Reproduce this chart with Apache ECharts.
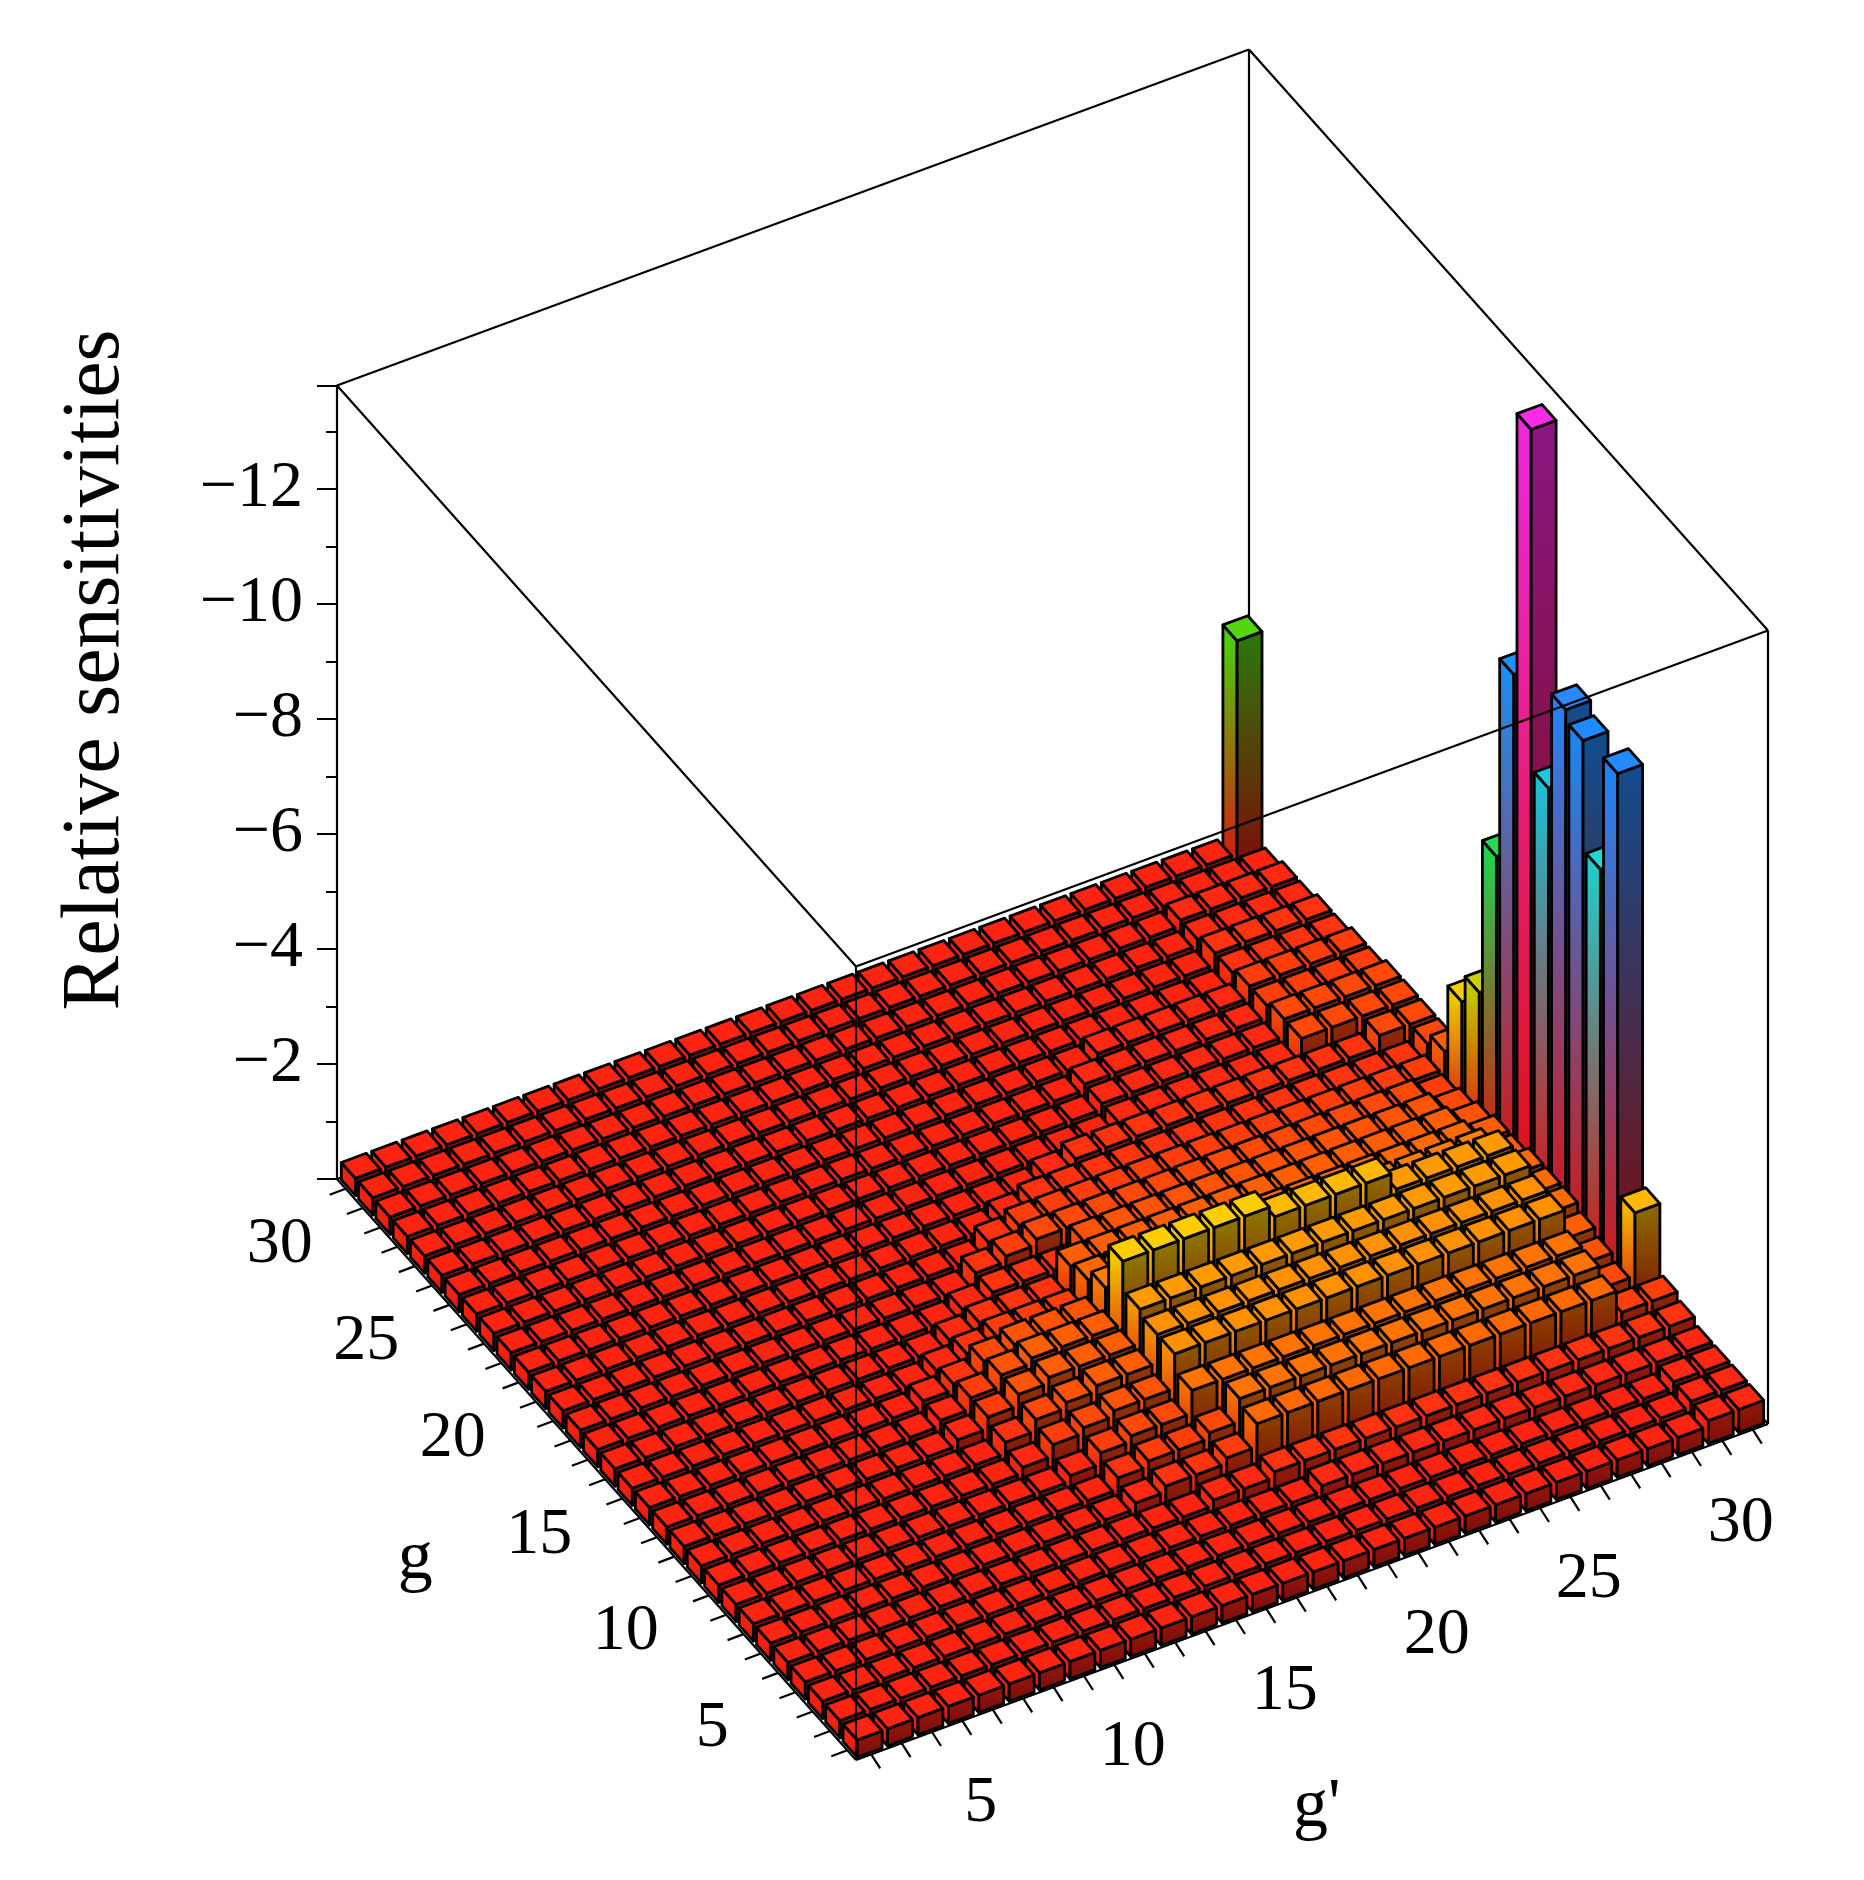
<!DOCTYPE html><html><head><meta charset="utf-8">
<script src="https://cdn.jsdelivr.net/npm/echarts@6/dist/echarts.min.js"></script>
<style>html,body{margin:0;background:#fff}#c{width:1864px;height:1880px}</style></head><body><div id="c"></div><script>
// g' = columns 1..30, g = rows 1..30, values = relative sensitivities
const gPrimeTicks = [5,10,15,20,25,30];
const gTicks = [5,10,15,20,25,30];
const zTitle = 'Relative sensitivities';
const row01 = [-.3,-.3,-.3,-.3,-.3,-.3,-.3,-.3,-.3,-.3, -.3,-.3,-.3,-.3,-.3,-.3,-.3,-.3,-.3,-.3, -.3,-.3,-.3,-.3,-.3,-.3,-.3,-.3,-.4,-.4];
const row02 = [-.3,-.3,-.3,-.3,-.3,-.3,-.3,-.3,-.3,-.3, -.3,-.3,-.3,-.3,-.3,-.3,-.3,-.3,-.3,-.3, -.3,-.3,-.3,-.3,-.3,-.3,-.3,-.3,-.4,-.4];
const row03 = [-.3,-.3,-.3,-.3,-.3,-.3,-.3,-.3,-.3,-.3, -.3,-.3,-.3,-.3,-.3,-.3,-.3,-.3,-.3,-.3, -.3,-.3,-.3,-.3,-.3,-.3,-.3,-.3,-.4,-.4];
const row04 = [-.3,-.3,-.3,-.3,-.3,-.3,-.3,-.3,-.3,-.3, -.3,-.3,-.3,-.3,-.3,-.3,-.3,-.4,-.4,-.4, -.4,-.4,-.4,-.4,-.4,-.4,-.4,-.4,-.4,-.4];
const row05 = [-.3,-.3,-.3,-.3,-.3,-.3,-.3,-.3,-.3,-.3, -.3,-.3,-.3,-.3,-.4,-.4,-.5,-.5,-.5,-.5, -.5,-.5,-.5,-.5,-.5,-.5,-.5,-.5,-.5,-.5];
const row06 = [-.3,-.3,-.3,-.3,-.3,-.3,-.3,-.3,-.3,-.3, -.3,-.3,-.4,-.5,-.5,-.6,-1,-1,-1,-1, -1,-1,-1,-1,-1,-1,-1,-1,-.6,-.6];
const row07 = [-.3,-.3,-.3,-.3,-.3,-.3,-.3,-.3,-.3,-.3, -.3,-.3,-.5,-.6,-.6,-.7,-1.1,-1.1,-1.1,-1.1, -1.1,-1.1,-1.1,-1.1,-1.1,-1.1,-1.1,-1.1,-.7,-1.8];
const row08 = [-.3,-.3,-.3,-.3,-.3,-.3,-.3,-.3,-.3,-.3, -.3,-.4,-.6,-.7,-.7,-1.1,-1.1,-1.1,-1.1,-1.1, -1.1,-1.1,-1.1,-1.1,-1.1,-1.1,-1.1,-1.1,-.8,-9.1];
const row09 = [-.3,-.3,-.3,-.3,-.3,-.3,-.3,-.3,-.3,-.3, -.4,-.6,-.7,-.8,-.8,-1.4,-1.4,-1.4,-1.4,-1.4, -1.4,-1.4,-1.4,-1.4,-1.4,-1.4,-1.4,-1.4,-.9,-7.1];
const row10 = [-.3,-.3,-.3,-.3,-.3,-.3,-.3,-.3,-.3,-.3, -.5,-.7,-.8,-.9,-.9,-1.4,-1.4,-1.4,-1.4,-1.4, -1.4,-1.4,-1.4,-1.4,-1.4,-1.4,-1.4,-1.4,-1,-9];
const row11 = [-.3,-.3,-.3,-.3,-.3,-.3,-.3,-.3,-.3,-.4, -.6,-.8,-.9,-.9,-.9,-1.5,-1.5,-1.5,-1.5,-1.5, -1.5,-1.5,-1.5,-1.5,-1.5,-1.5,-1.5,-1.5,-1,-9.2];
const row12 = [-.3,-.3,-.3,-.3,-.3,-.3,-.3,-.3,-.3,-.4, -.6,-.8,-.9,-.9,-.9,-2,-2,-2,-2,-2, -1.8,-1.8,-1.8,-1.8,-1.5,-1.5,-1.5,-1.5,-1,-7.5];
const row13 = [-.3,-.3,-.3,-.3,-.3,-.3,-.3,-.3,-.3,-.4, -.5,-.7,-.8,-.8,-.8,-1.2,-1.2,-1.2,-1.2,-1.2, -1.2,-1.2,-1.2,-1.2,-1.2,-1.2,-1.2,-1.2,-.9,-13.4];
const row14 = [-.3,-.3,-.3,-.3,-.3,-.3,-.3,-.3,-.3,-.3, -.4,-.5,-.6,-.6,-.6,-1,-1,-1,-1,-1, -1,-1,-1,-1,-1,-1,-1,-1,-.9,-8.8];
const row15 = [-.3,-.3,-.3,-.3,-.3,-.3,-.3,-.3,-.3,-.3, -.3,-.4,-.5,-.5,-.5,-.9,-.9,-.9,-.9,-.9, -.9,-.9,-.9,-.9,-.9,-.9,-.9,-.9,-.8,-5.3];
const row16 = [-.3,-.3,-.3,-.3,-.3,-.3,-.3,-.3,-.3,-.3, -.3,-.3,-.4,-.5,-.5,-.5,-.8,-.8,-.8,-.8, -.8,-.8,-.8,-.8,-.8,-.8,-.8,-.8,-.7,-2.6];
const row17 = [-.3,-.3,-.3,-.3,-.3,-.3,-.3,-.3,-.3,-.3, -.3,-.3,-.3,-.5,-.6,-.7,-.7,-.7,-.7,-.7, -.7,-.7,-.7,-.7,-.7,-.7,-.7,-.7,-.6,-2.1];
const row18 = [-.3,-.3,-.3,-.3,-.3,-.3,-.3,-.3,-.3,-.3, -.3,-.3,-.3,-.3,-.5,-.6,-.6,-.6,-.6,-.6, -.6,-.6,-.6,-.6,-.6,-.6,-.6,-.6,-.6,-.9];
const row19 = [-.3,-.3,-.3,-.3,-.3,-.3,-.3,-.3,-.3,-.3, -.3,-.3,-.3,-.3,-.3,-.4,-.5,-.5,-.5,-.5, -.5,-.5,-.5,-.5,-.5,-.5,-.5,-.5,-.5,-.7];
const row20 = [-.3,-.3,-.3,-.3,-.3,-.3,-.3,-.3,-.3,-.3, -.3,-.3,-.3,-.3,-.3,-.3,-.3,-.4,-.5,-.5, -.5,-.5,-.5,-.5,-.5,-.5,-.5,-.5,-.7,-.7];
const row21 = [-.3,-.3,-.3,-.3,-.3,-.3,-.3,-.3,-.3,-.3, -.3,-.3,-.3,-.3,-.3,-.3,-.3,-.3,-.3,-.3, -.4,-.4,-.4,-.4,-.4,-.4,-.7,-.7,-.7,-.7];
const row22 = [-.3,-.3,-.3,-.3,-.3,-.3,-.3,-.3,-.3,-.3, -.3,-.3,-.3,-.3,-.3,-.3,-.3,-.3,-.3,-.3, -.4,-.4,-.4,-.4,-.4,-.4,-.7,-.7,-.7,-.7];
const row23 = [-.3,-.3,-.3,-.3,-.3,-.3,-.3,-.3,-.3,-.3, -.3,-.3,-.3,-.3,-.3,-.3,-.3,-.3,-.3,-.3, -.4,-.4,-.4,-.4,-.4,-.4,-.6,-.6,-.6,-.6];
const row24 = [-.3,-.3,-.3,-.3,-.3,-.3,-.3,-.3,-.3,-.3, -.3,-.3,-.3,-.3,-.3,-.3,-.3,-.3,-.3,-.3, -.3,-.4,-.4,-.4,-.4,-.4,-.6,-.6,-.6,-.6];
const row25 = [-.3,-.3,-.3,-.3,-.3,-.3,-.3,-.3,-.3,-.3, -.3,-.3,-.3,-.3,-.3,-.3,-.3,-.3,-.3,-.3, -.3,-.3,-.3,-.3,-.3,-.3,-.5,-.5,-.5,-.5];
const row26 = [-.3,-.3,-.3,-.3,-.3,-.3,-.3,-.3,-.3,-.3, -.3,-.3,-.3,-.3,-.3,-.3,-.3,-.3,-.3,-.3, -.3,-.3,-.3,-.3,-.3,-.3,-.5,-.5,-.5,-.5];
const row27 = [-.3,-.3,-.3,-.3,-.3,-.3,-.3,-.3,-.3,-.3, -.3,-.3,-.3,-.3,-.3,-.3,-.3,-.3,-.3,-.3, -.3,-.3,-.3,-.3,-.3,-.3,-.4,-.4,-.4,-.4];
const row28 = [-.3,-.3,-.3,-.3,-.3,-.3,-.3,-.3,-.3,-.3, -.3,-.3,-.3,-.3,-.3,-.3,-.3,-.3,-.3,-.3, -.3,-.3,-.3,-.3,-.3,-.3,-.4,-.4,-.4,-.4];
const row29 = [-.3,-.3,-.3,-.3,-.3,-.3,-.3,-.3,-.3,-.3, -.3,-.3,-.3,-.3,-.3,-.3,-.3,-.3,-.3,-.3, -.3,-.3,-.3,-.3,-.3,-.3,-.3,-.3,-.3,-.3];
const row30 = [-.3,-.3,-.3,-.3,-.3,-.3,-.3,-.3,-.3,-.3, -.3,-.3,-.3,-.3,-.3,-.3,-.3,-.3,-.3,-.3, -.3,-.3,-.3,-.3,-.3,-.3,-.3,-.3,-.3,-4.0];
const rows = [row01,row02,row03,row04,row05,row06,row07,row08,row09,row10,row11,row12,row13,row14,row15,row16,row17,row18,row19,row20,row21,row22,row23,row24,row25,row26,row27,row28,row29,row30];

// colour map (height -> colour)
const cmap = [[0,[255,22,18]],[0.4,[255,40,18]],[1,[255,105,0]],[2,[255,205,0]],[4.5,[40,215,20]],[7,[30,220,210]],[9,[30,140,255]],[13.5,[255,40,230]]];
function cm(z){ if(z<=cmap[0][0]) return cmap[0][1];
  for(let i=1;i<cmap.length;i++){ if(z<=cmap[i][0]){ const [z0,c0]=cmap[i-1],[z1,c1]=cmap[i]; const t=(z-z0)/(z1-z0); return c0.map((v,k)=>v+(c1[k]-v)*t);} }
  return cmap[cmap.length-1][1]; }
function rgb(c,f){ return 'rgb('+c.map(v=>Math.round(Math.min(255,v*f))).join(',')+')'; }

// ground projection (g', g) -> screen
const O=[856,1760], U1=[(1768-856)/30,(1424-1760)/30], U2=[(337-856)/30,(1179-1760)/30];
function ground(gp,g){ return [O[0]+(gp-0.5)*U1[0]+(g-0.5)*U2[0], O[1]+(gp-0.5)*U1[1]+(g-0.5)*U2[1]]; }

const data=[];
rows.forEach((r,gi)=>r.forEach((v,pi)=>data.push([pi+1,gi+1,v])));
data.sort((a,b)=>(17.3*b[0]+30.4*b[1])-(17.3*a[0]+30.4*a[1]));

function renderItem(params, api){
  const gp=api.value(0), g=api.value(1), h=-api.value(2);
  const base=api.coord([0,0])[1];
  const dz=z=>api.coord([0,z])[1]-base;
  const P=(x,y,z)=>{const q=ground(x,y); return [q[0], q[1]+dz(z)];};
  const w=0.41, x0=gp-w,x1=gp+w,y0=g-w,y1=g+w;
  const top_c=cm(h);
  const grad=(f,ptB,ptT)=>new echarts.graphic.LinearGradient(0,ptB[1],0,ptT[1],
      [{offset:0,color:rgb(cmap[0][1],f*0.9)},{offset:1,color:rgb(top_c,f)}],true);
  const lb=P(x0,y0,0), lt=P(x0,y0,h);
  const left=[P(x0,y1,0),P(x0,y0,0),P(x0,y0,h),P(x0,y1,h)];
  const front=[P(x0,y0,0),P(x1,y0,0),P(x1,y0,h),P(x0,y0,h)];
  const top=[P(x0,y0,h),P(x1,y0,h),P(x1,y1,h),P(x0,y1,h)];
  const st={stroke:'#000',lineWidth:2.8,lineJoin:'round'};
  return {type:'group',children:[
    {type:'polygon',shape:{points:left},style:Object.assign({fill:grad(0.95,lb,lt)},st)},
    {type:'polygon',shape:{points:front},style:Object.assign({fill:grad(0.55,lb,lt)},st)},
    {type:'polygon',shape:{points:top},style:Object.assign({fill:rgb(top_c,1.0)},st)}
  ]};
}

const chart=echarts.init(document.getElementById('c'));
const font='Liberation Serif';
chart.setOption({
  animation:false,
  grid:{left:337,top:1179-13.8*57.5,width:10,height:13.8*57.5},
  xAxis:{type:'value',min:0,max:31,show:false},
  yAxis:{type:'value',min:0,max:13.8,interval:2,position:'left',
    axisLine:{show:true,lineStyle:{color:'#000',width:2}},
    axisTick:{show:true,length:20,lineStyle:{color:'#000',width:2}},
    minorTick:{show:true,splitNumber:2,length:11,lineStyle:{color:'#000',width:2}},
    splitLine:{show:false},
    axisLabel:{formatter:v=>(v===0||v>13)?'':'\u2212'+v,showMaxLabel:false,fontFamily:font,fontSize:66,color:'#000',margin:34}},
  series:[{type:'custom',coordinateSystem:'cartesian2d',clip:false,encode:{x:0,y:2},renderItem,data,z:5}]
});

// box, ticks and labels
const zp=z=>chart.convertToPixel({yAxisIndex:0},z)-chart.convertToPixel({yAxisIndex:0},0);
const ZT=13.8;
const PP=(gp,g,z)=>{const q=ground(gp,g); return [q[0],q[1]+zp(z)];};
const lo=0.5, hi=30.5;
const ln=(a,b,z)=>({type:'polyline',z:z,silent:true,shape:{points:[a,b]},style:{stroke:'#000',lineWidth:2.2,fill:null}});
const gr=[];
gr.push(ln(PP(hi,lo,0),PP(hi,hi,0),0), ln(PP(lo,hi,0),PP(hi,hi,0),0), ln(PP(hi,hi,0),PP(hi,hi,ZT),0));
[[lo,lo],[hi,lo],[lo,hi]].forEach(c=>gr.push(ln(PP(c[0],c[1],0),PP(c[0],c[1],ZT),100)));
gr.push(ln(PP(lo,lo,0),PP(hi,lo,0),100), ln(PP(lo,lo,0),PP(lo,hi,0),100));
gr.push(ln(PP(lo,lo,ZT),PP(hi,lo,ZT),100), ln(PP(hi,lo,ZT),PP(hi,hi,ZT),100), ln(PP(hi,hi,ZT),PP(lo,hi,ZT),100), ln(PP(lo,hi,ZT),PP(lo,lo,ZT),100));
for(let k=1;k<=30;k++){ const a=PP(k,lo,0); gr.push(ln(a,[a[0]+9,a[1]+14],100)); }
const lf='66px "'+font+'"';
gPrimeTicks.forEach(k=>{ const a=PP(k,lo,0); gr.push({type:'text',z:100,style:{text:String(k),x:a[0]-12,y:a[1]+94,align:'center',verticalAlign:'middle',font:lf,fill:'#000'}}); });
for(let k=1;k<=30;k++){ const a=PP(lo,k,0); gr.push(ln(a,[a[0]-16,a[1]+6],100)); }
gTicks.forEach(k=>{ const a=PP(lo,k,0); gr.push({type:'text',z:100,style:{text:String(k),x:a[0]-66,y:a[1]+56,align:'center',verticalAlign:'middle',font:lf,fill:'#000'}}); });
const tg=PP(lo,15,0), tgp=PP(15,lo,0);
gr.push({type:'text',z:100,style:{text:'g',x:tg[0]-190,y:tg[1]+80,align:'center',verticalAlign:'middle',font:'70px "'+font+'"',fill:'#000'}});
gr.push({type:'text',z:100,style:{text:"g'",x:tgp[0]+20,y:tgp[1]+210,align:'center',verticalAlign:'middle',font:'70px "'+font+'"',fill:'#000'}});
gr.push({type:'text',z:100,rotation:Math.PI/2,x:96,y:670,style:{text:zTitle,x:0,y:0,align:'center',verticalAlign:'middle',font:'82px "'+font+'"',fill:'#000'}});
chart.setOption({graphic:{elements:gr}});
</script></body></html>
